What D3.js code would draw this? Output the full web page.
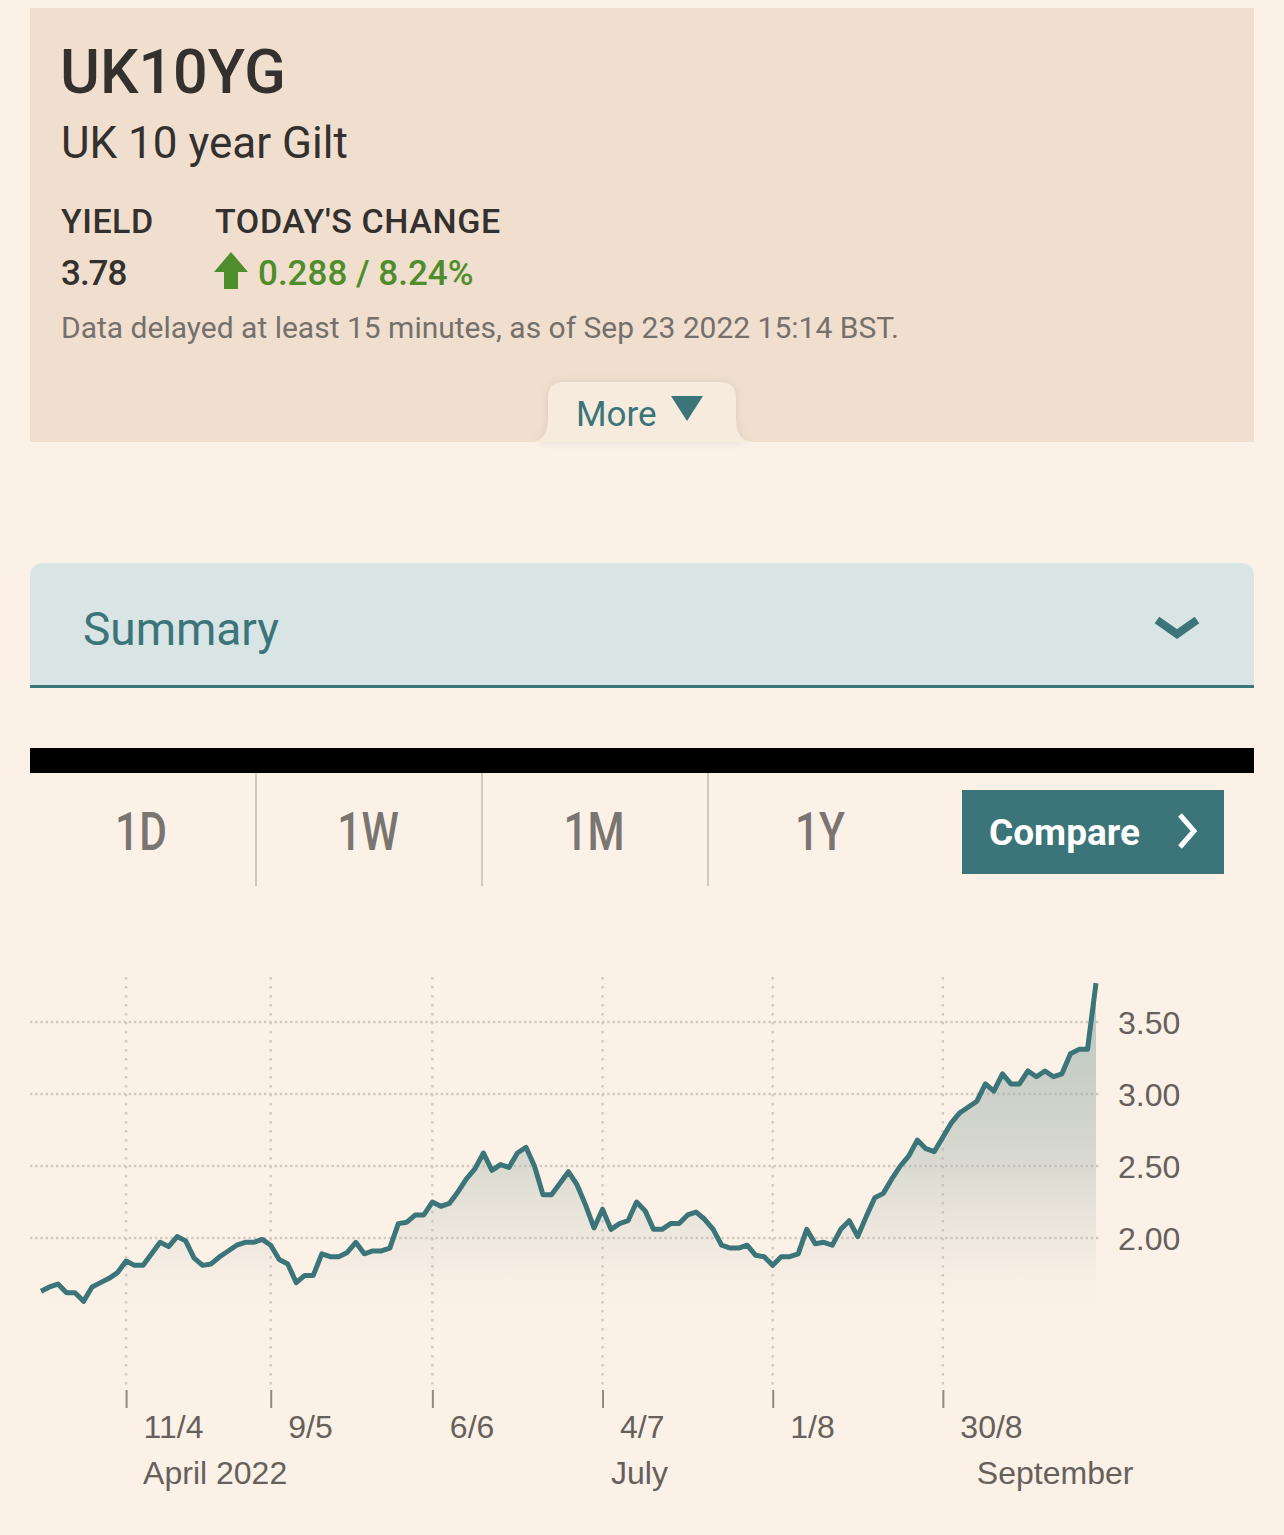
<!DOCTYPE html>
<html>
<head>
<meta charset="utf-8">
<script src="https://cdn.jsdelivr.net/npm/d3@7/dist/d3.min.js"></script>
<style>
  html, body { margin: 0; padding: 0; background: #fbf1e7; }
  svg { display: block; }
</style>
</head>
<body>
<svg id="chart" width="1284" height="1535"></svg>
<script>
// ---------- data ----------
const symbol = "UK10YG";
const instrumentName = "UK 10 year Gilt";
const yieldValue = "3.78";
const changeText = "0.288 / 8.24%";
const delayNote = "Data delayed at least 15 minutes, as of Sep 23 2022 15:14 BST.";
const periodTabs = ["1D", "1W", "1M", "1Y"];

// daily closing yield, one per trading day (late Mar 2022 – 23 Sep 2022)
const yields = [
  1.63, 1.66, 1.68, 1.62, 1.62, 1.56, 1.66, 1.69, 1.72, 1.76,
  1.84, 1.81, 1.81, 1.89, 1.97, 1.94, 2.01, 1.98, 1.86, 1.81,
  1.82, 1.87, 1.91, 1.95, 1.97, 1.97, 1.99, 1.95, 1.85, 1.82,
  1.69, 1.74, 1.74, 1.89, 1.87, 1.87, 1.90, 1.97, 1.89, 1.91,
  1.91, 1.93, 2.10, 2.11, 2.16, 2.16, 2.25, 2.22, 2.24, 2.32,
  2.41, 2.48, 2.59, 2.47, 2.51, 2.49, 2.59, 2.63, 2.50, 2.30,
  2.30, 2.38, 2.46, 2.37, 2.23, 2.07, 2.20, 2.06, 2.10, 2.12,
  2.25, 2.19, 2.06, 2.06, 2.10, 2.10, 2.16, 2.18, 2.13, 2.06,
  1.95, 1.93, 1.93, 1.95, 1.88, 1.87, 1.81, 1.87, 1.87, 1.89,
  2.06, 1.96, 1.97, 1.95, 2.06, 2.12, 2.01, 2.15, 2.28, 2.31,
  2.41, 2.50, 2.57, 2.68, 2.62, 2.60, 2.70, 2.80, 2.87, 2.91,
  2.95, 3.07, 3.02, 3.14, 3.07, 3.07, 3.16, 3.12, 3.16, 3.12,
  3.14, 3.28, 3.31, 3.31, 3.77
];
const xTickIndex = [10, 27, 46, 66, 86, 106];
const xTickLabels = ["11/4", "9/5", "6/6", "4/7", "1/8", "30/8"];
const monthIndex = [10, 65, 108];
const monthLabels = ["April 2022", "July", "September"];
const yTicks = [2.0, 2.5, 3.0, 3.5];

// ---------- styles ----------
const C = {
  bg: "#fbf1e7", header: "#f0dfcf", tab: "#f6ebdd", dark: "#33302e", grey: "#75706b",
  green: "#4f8c2b", teal: "#3b7479", summary: "#d9e4e4", tabText: "#7a7571",
  divider: "#d2c7bb", grid: "#d3c9be", axisText: "#66605b", tick: "#8f8983"
};
const UI = "Roboto, 'Noto Sans', sans-serif";
const AX = "'Liberation Sans', Arial, sans-serif";

const svg = d3.select("#chart");
const defs = svg.append("defs");

// ---------- header panel ----------
svg.append("rect").attr("x", 30).attr("y", 8).attr("width", 1224).attr("height", 434).attr("fill", C.header);

svg.append("text").attr("x", 60).attr("y", 93).attr("font-family", UI).attr("font-weight", 500)
  .attr("font-size", 61).attr("fill", C.dark).text(symbol);
svg.append("text").attr("x", 61).attr("y", 158).attr("font-family", UI).attr("font-weight", 400)
  .attr("font-size", 44).attr("fill", C.dark).text(instrumentName);

svg.append("text").attr("x", 61).attr("y", 233).attr("font-family", UI).attr("font-weight", 500)
  .attr("font-size", 34).attr("letter-spacing", 0.5).attr("fill", C.dark).text("YIELD");
svg.append("text").attr("x", 215).attr("y", 233).attr("font-family", UI).attr("font-weight", 500)
  .attr("font-size", 34).attr("letter-spacing", 0.6).attr("fill", C.dark).text("TODAY'S CHANGE");
svg.append("text").attr("x", 61).attr("y", 285).attr("font-family", UI).attr("font-weight", 500)
  .attr("font-size", 35).attr("letter-spacing", -1).attr("fill", C.dark).text(yieldValue);

// up arrow
svg.append("path").attr("fill", C.green)
  .attr("d", "M231,252 L248,272 L238,272 L238,289 L224,289 L224,272 L214,272 Z");
svg.append("text").attr("x", 258).attr("y", 285).attr("font-family", UI).attr("font-weight", 500)
  .attr("font-size", 35).attr("fill", C.green).text(changeText);

svg.append("text").attr("x", 61).attr("y", 338).attr("font-family", UI).attr("font-weight", 400)
  .attr("font-size", 30).attr("fill", C.grey).text(delayNote);

// "More" tab
const shadow = defs.append("filter").attr("id", "tabShadow").attr("x", "-20%").attr("y", "-40%").attr("width", "140%").attr("height", "180%");
shadow.append("feGaussianBlur").attr("in", "SourceAlpha").attr("stdDeviation", 5).attr("result", "b");
shadow.append("feComponentTransfer").attr("in", "b").attr("result", "s")
  .append("feFuncA").attr("type", "linear").attr("slope", 0.1);
const fm = shadow.append("feMerge");
fm.append("feMergeNode").attr("in", "s");
fm.append("feMergeNode").attr("in", "SourceGraphic");

svg.append("path").attr("fill", C.tab).attr("filter", "url(#tabShadow)")
  .attr("d", "M532,442 Q548,440 548,420 L548,398 Q548,382 564,382 L720,382 Q736,382 736,398 L736,420 Q736,440 752,442 Z");
svg.append("text").attr("x", 576).attr("y", 426).attr("font-family", UI).attr("font-size", 35)
  .attr("fill", C.teal).text("More");
svg.append("path").attr("fill", C.teal).attr("d", "M671,396 L703,396 L687,421 Z");

// ---------- summary bar ----------
svg.append("path").attr("fill", C.summary)
  .attr("d", "M30,686 L30,577 Q30,563 44,563 L1240,563 Q1254,563 1254,577 L1254,686 Z");
svg.append("rect").attr("x", 30).attr("y", 685).attr("width", 1224).attr("height", 3).attr("fill", C.teal);
svg.append("text").attr("x", 83).attr("y", 645).attr("font-family", UI).attr("font-size", 46)
  .attr("fill", C.teal).text("Summary");
svg.append("path").attr("fill", "none").attr("stroke", C.teal).attr("stroke-width", 8)
  .attr("stroke-linejoin", "miter").attr("d", "M1157,620 L1177,634 L1197,620");

// ---------- black bar + tabs ----------
svg.append("rect").attr("x", 30).attr("y", 748).attr("width", 1224).attr("height", 25).attr("fill", "#000");
const tabCenters = [141, 368, 594, 820];
periodTabs.forEach((t, i) => {
  svg.append("text").attr("transform", `translate(${tabCenters[i]},850) scale(0.8,1)`)
    .attr("text-anchor", "middle")
    .attr("font-family", UI).attr("font-weight", 500).attr("font-size", 53).attr("fill", C.tabText).text(t);
});
[256, 482, 708].forEach(x => {
  svg.append("rect").attr("x", x - 1).attr("y", 773).attr("width", 2).attr("height", 113).attr("fill", C.divider);
});
svg.append("rect").attr("x", 962).attr("y", 790).attr("width", 262).attr("height", 84).attr("fill", C.teal);
svg.append("text").attr("x", 989).attr("y", 845).attr("font-family", UI).attr("font-weight", 700)
  .attr("font-size", 37).attr("fill", "#fff").text("Compare");
svg.append("path").attr("fill", "none").attr("stroke", "#fff").attr("stroke-width", 5)
  .attr("d", "M1180,815 L1194,831 L1180,847");

// ---------- chart ----------
const x = d3.scaleLinear().domain([0, yields.length - 1]).range([41, 1096]);
const y = d3.scaleLinear().domain([2.0, 3.5]).range([1238, 1022]);
const areaBottom = 1305;

// gridlines
const g = svg.append("g");
g.selectAll(".hgrid").data(yTicks).join("line")
  .attr("x1", 30).attr("x2", 1100).attr("y1", d => y(d)).attr("y2", d => y(d))
  .attr("stroke", C.grid).attr("stroke-width", 2.4).attr("stroke-dasharray", "2.4,2.8");
g.selectAll(".vgrid").data(xTickIndex).join("line")
  .attr("x1", d => x(d)).attr("x2", d => x(d)).attr("y1", 977).attr("y2", 1385)
  .attr("stroke", C.grid).attr("stroke-width", 2.4).attr("stroke-dasharray", "2.4,6.6");

// area gradient
const grad = defs.append("linearGradient").attr("id", "areaGrad")
  .attr("gradientUnits", "userSpaceOnUse").attr("x1", 0).attr("x2", 0).attr("y1", 985).attr("y2", areaBottom);
grad.append("stop").attr("offset", 0).attr("stop-color", "#88a4a0").attr("stop-opacity", 0.6);
grad.append("stop").attr("offset", 0.55).attr("stop-color", "#a0b2ac").attr("stop-opacity", 0.38);
grad.append("stop").attr("offset", 1).attr("stop-color", "#c9c9be").attr("stop-opacity", 0);

const area = d3.area().x((d, i) => x(i)).y0(areaBottom).y1(d => y(d));
svg.append("path").datum(yields).attr("fill", "url(#areaGrad)").attr("d", area);

const line = d3.line().x((d, i) => x(i)).y(d => y(d));
svg.append("path").datum(yields).attr("fill", "none").attr("stroke", C.teal)
  .attr("stroke-width", 5).attr("stroke-linejoin", "round").attr("stroke-linecap", "butt").attr("d", line);

// y axis
const yAxis = d3.axisRight(y).tickValues(yTicks).tickSize(0).tickPadding(0).tickFormat(d3.format(".2f"));
const ya = svg.append("g").attr("transform", "translate(1118,0)").call(yAxis);
ya.select(".domain").remove();
ya.selectAll("text").attr("font-family", AX).attr("font-size", 32).attr("fill", C.axisText).attr("dy", "0.35em");

// x axis
const xAxis = d3.axisBottom(x).tickValues(xTickIndex).tickSize(18).tickPadding(0)
  .tickFormat((d, i) => xTickLabels[i]);
const xa = svg.append("g").attr("transform", "translate(0,1390)").call(xAxis);
xa.select(".domain").remove();
xa.selectAll(".tick line").attr("stroke", C.tick).attr("stroke-width", 2);
xa.selectAll(".tick text").attr("font-family", AX).attr("font-size", 32).attr("fill", C.axisText)
  .attr("text-anchor", "start").attr("dx", 17).attr("y", 48).attr("dy", 0);

svg.append("g").selectAll("text").data(monthIndex).join("text")
  .attr("x", d => x(d) + 17).attr("y", 1484).attr("font-family", AX).attr("font-size", 32)
  .attr("fill", C.axisText).text((d, i) => monthLabels[i]);
</script>
</body>
</html>
